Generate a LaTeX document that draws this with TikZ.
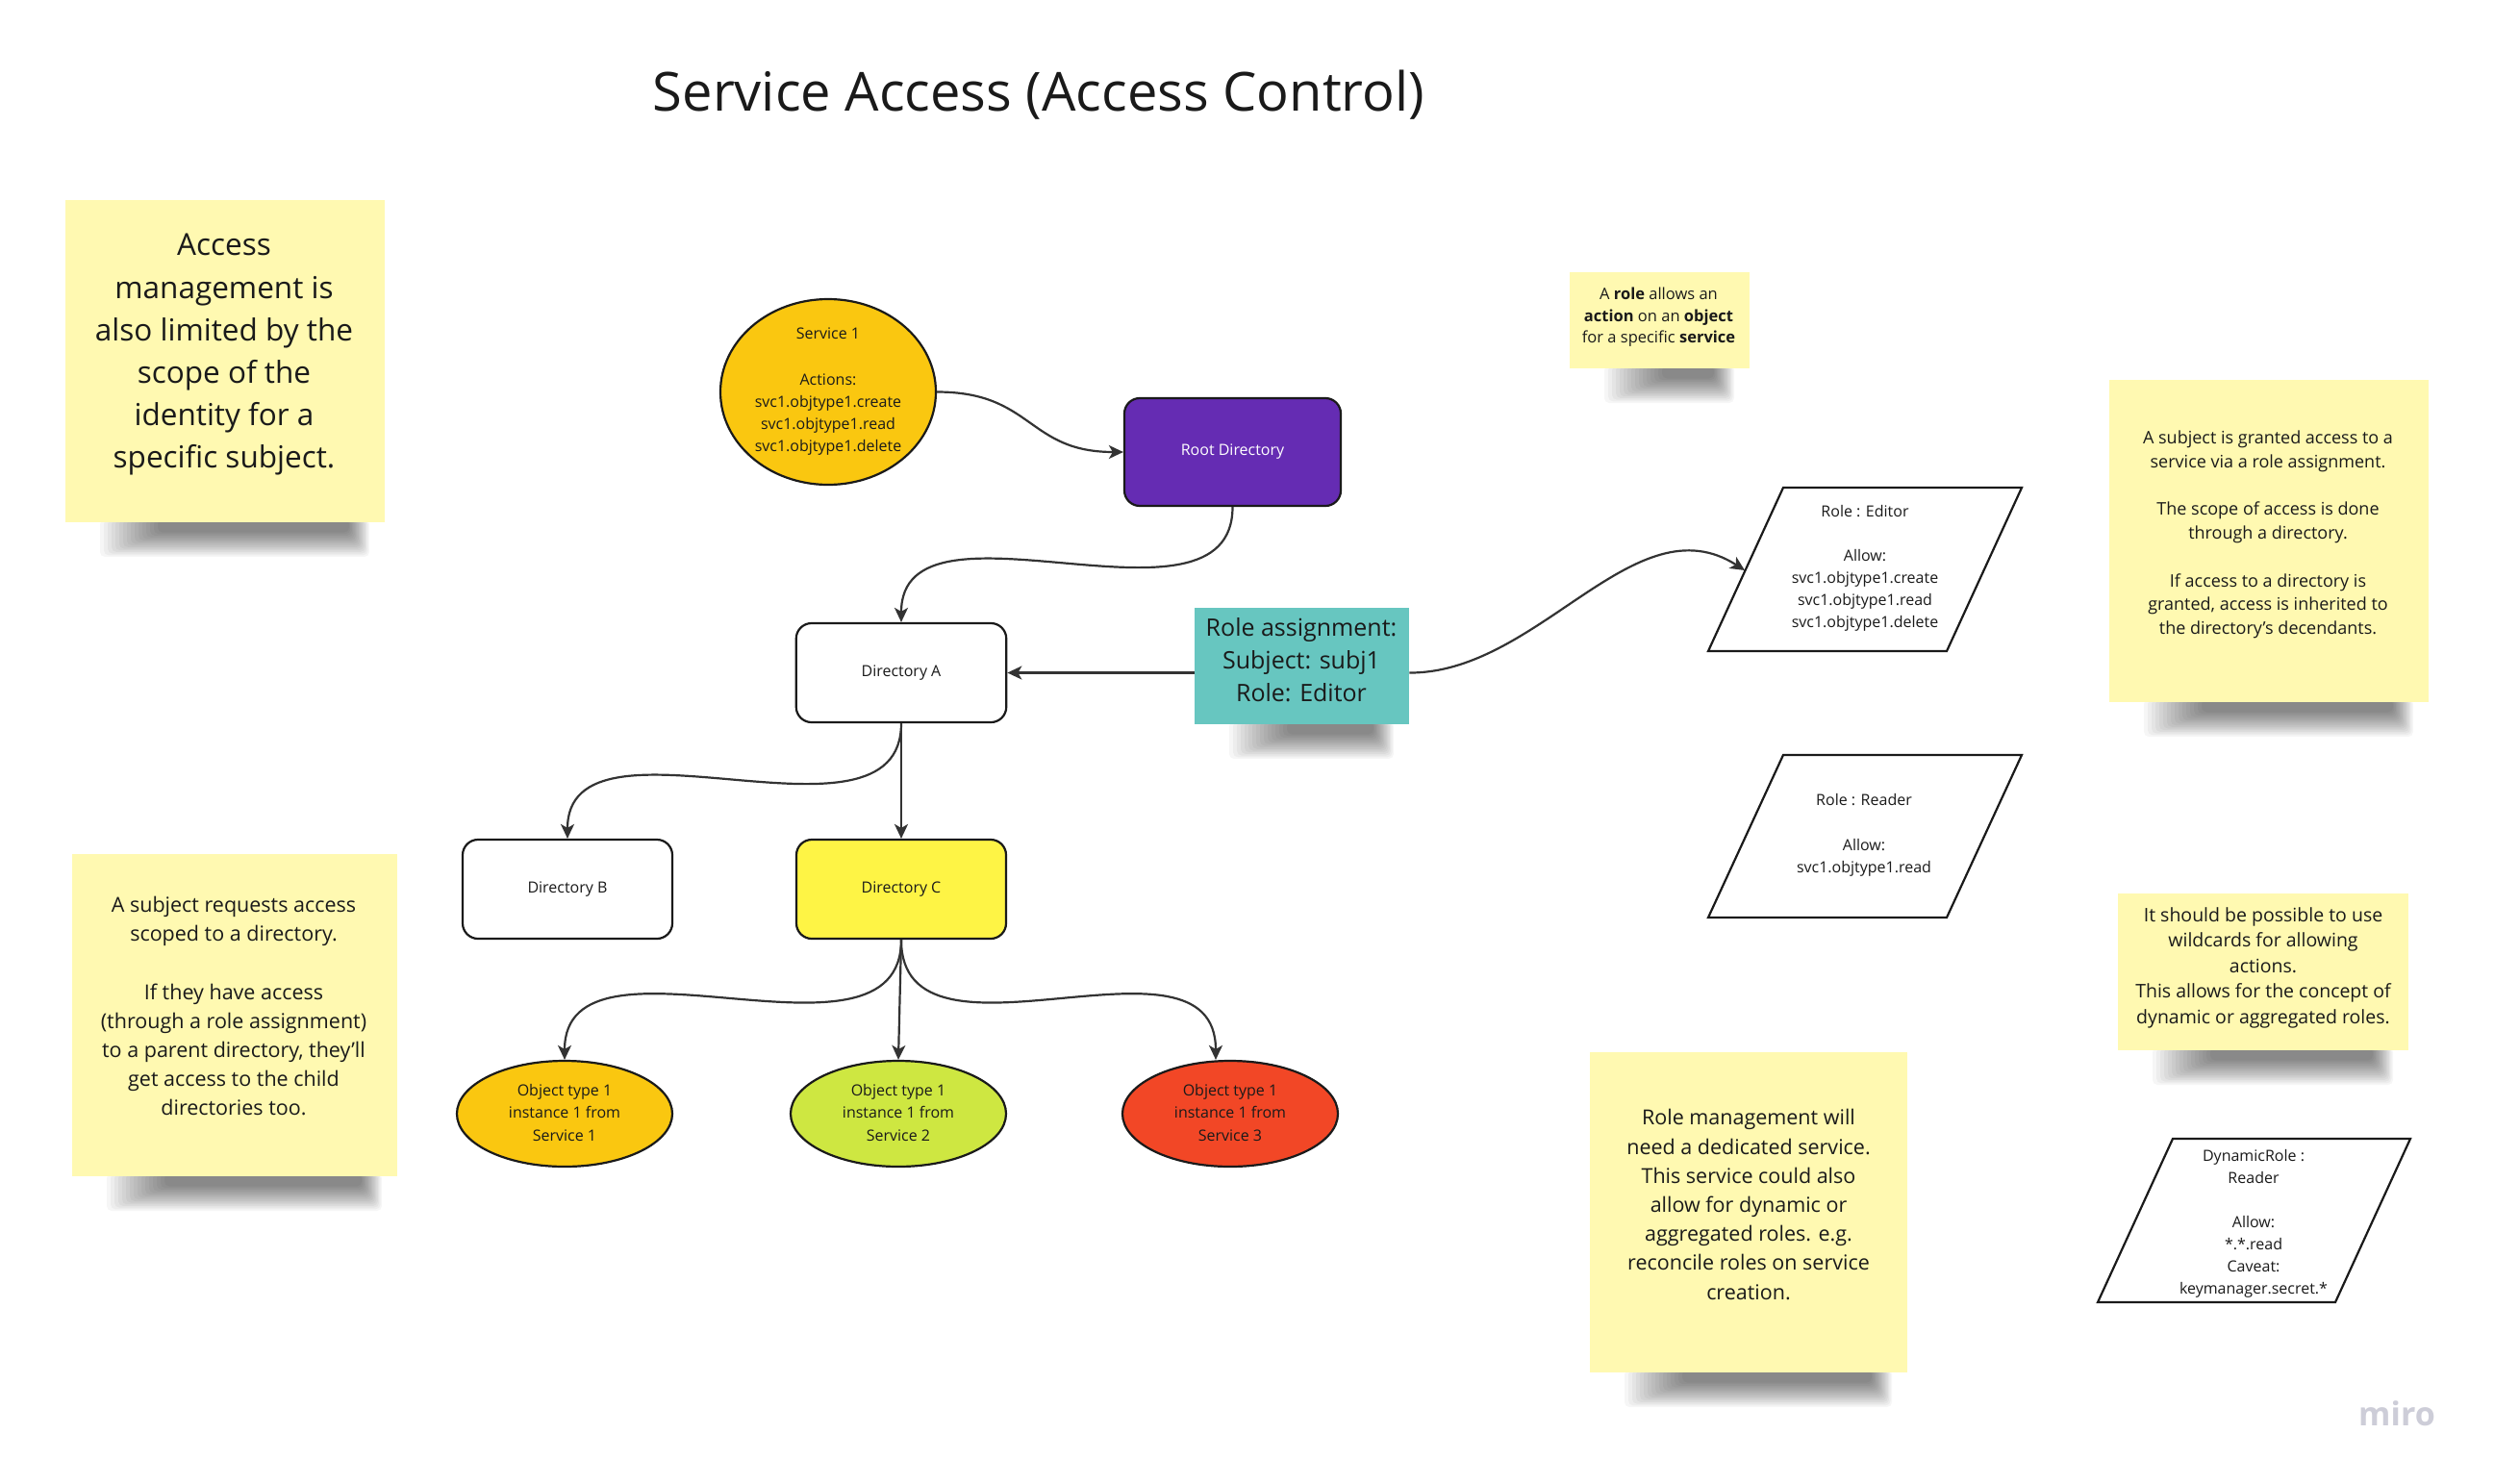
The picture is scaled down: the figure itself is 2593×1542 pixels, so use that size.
\documentclass[tikz,border=0pt]{standalone}
\usepackage{fontspec}
\setmainfont{Open Sans}
\usetikzlibrary{arrows.meta,shapes.geometric}
\definecolor{stickyc}{HTML}{FFF9B1}
\definecolor{tealc}{HTML}{67C6C0}
\definecolor{linec}{HTML}{1A1A1A}
\definecolor{connc}{HTML}{333333}
\definecolor{orangec}{HTML}{FAC710}
\definecolor{violetc}{HTML}{652CB3}
\definecolor{yellowc}{HTML}{FEF445}
\definecolor{limec}{HTML}{CEE741}
\definecolor{redc}{HTML}{F24726}
\definecolor{miroc}{HTML}{CDCDD8}
\newcommand\fsz[2]{\fontsize{#1}{#2}\selectfont}
\newcommand\noteshadow[3]{%
  \foreach \i in {0,...,15}{
    \fill[black,opacity=0.034,rounded corners=5pt] (#1+36+\i*4,#3-3) rectangle (#2-16-\i*1.4,#3+36-\i*1.7);
  }}
\tikzset{
  shapebox/.style={draw=linec, line width=2.2pt, rounded corners=16pt, inner sep=0pt, text=linec, font=\fsz{16}{23}},
  objell/.style={draw=linec, line width=2.2pt, ellipse, inner sep=0pt, minimum width=224pt, minimum height=110pt, align=center, text=linec, font=\fsz{16}{23.5}},
  conn/.style={draw=connc, line width=2.2pt, -{Stealth[length=15pt,width=14pt,inset=4pt]}},
  stickynote/.style={fill=stickyc, inner sep=0pt, anchor=north west},
  notetext/.style={align=center, inner sep=0pt, text=linec},
  shapetext/.style={align=center, inner sep=0pt, text=linec, font=\fsz{16}{23}},
  paral/.style={draw=linec, line width=2.2pt}
}
\begin{document}
\begin{tikzpicture}[x=1pt,y=-1pt]
\useasboundingbox (0,0) rectangle (2593,1542);
\fill[white] (0,0) rectangle (2593,1542);

% title
\node[anchor=base, inner sep=0pt, text=linec, font=\fsz{56}{64}] (title) at (1080,115) {Service Access (Access Control)};

% shadows
\noteshadow{68}{400}{543}
\noteshadow{1632}{1819}{383}
\noteshadow{2193}{2525}{730}
\noteshadow{75}{413}{1223}
\noteshadow{2202}{2504}{1092}
\noteshadow{1653}{1983}{1427}
\noteshadow{1242}{1465}{753}

% sticky notes
\node[stickynote, minimum width=332pt, minimum height=335pt] (n1) at (68,208) {};
\node[notetext, font=\fsz{31.5}{44.2}] (n1t) at (233,367.5) {\strut Access\\management is\\also limited by the\\scope of the\\identity for a\\specific subject.\strut};

\node[stickynote, minimum width=187pt, minimum height=100pt] (n2) at (1632,283) {};
\node[notetext, font=\fsz{16.5}{22.5}] (n2t) at (1724.5,329.5) {\strut A \textbf{role} allows an\\\textbf{action} on an \textbf{object}\\for a specific \textbf{service}\strut};

\node[stickynote, minimum width=332pt, minimum height=335pt] (n3) at (2193,395) {};
\node[notetext, font=\fsz{18}{24.8}] (n3t) at (2358,555.5) {\strut A subject is granted access to a\\service via a role assignment.\\[24.8pt]The scope of access is done\\through a directory.\\[24.8pt]If access to a directory is\\granted, access is inherited to\\the directory's decendants.\strut};

\node[stickynote, minimum width=338pt, minimum height=335pt] (n4) at (75,888) {};
\node[notetext, font=\fsz{21.5}{30}] (n4t) at (243,1048) {\strut A subject requests access\\scoped to a directory.\\[31pt]If they have access\\(through a role assignment)\\to a parent directory, they'll\\get access to the child\\directories too.\strut};

\node[stickynote, minimum width=302pt, minimum height=163pt] (n5) at (2202,929) {};
\node[notetext, font=\fsz{19.5}{26.5}] (n5t) at (2353,1006) {\strut It should be possible to use\\wildcards for allowing\\actions.\\This allows for the concept of\\dynamic or aggregated roles.\strut};

\node[stickynote, minimum width=330pt, minimum height=333pt] (n6) at (1653,1094) {};
\node[notetext, font=\fsz{21.5}{30.2}] (n6t) at (1818,1254.5) {\strut Role management will\\need a dedicated service.\\This service could also\\allow for dynamic or\\aggregated roles. e.g.\\reconcile roles on service\\creation.\strut};

\node[stickynote, fill=tealc, minimum width=223pt, minimum height=121pt] (teal) at (1242,632) {};
\node[notetext, font=\fsz{25}{34}] (tealt) at (1353,689) {\strut Role assignment:\\Subject: subj1\\Role: Editor\strut};

% service ellipse
\node[draw=linec, line width=2.2pt, ellipse, fill=orangec, minimum width=224pt, minimum height=193pt, inner sep=0pt] (svc) at (861,407.5) {};
\node[shapetext] (svct) at (861,406) {\strut Service 1\\[25pt]Actions:\\svc1.objtype1.create\\svc1.objtype1.read\\svc1.objtype1.delete\strut};

% directories
\node[shapebox, fill=violetc, text=white, minimum width=225pt, minimum height=112pt] (root) at (1281.5,470) {Root Directory};
\node[shapebox, fill=white, minimum width=218.5pt, minimum height=103pt] (dirA) at (937,699.5) {Directory A};
\node[shapebox, fill=white, minimum width=218pt, minimum height=103pt] (dirB) at (590,924.5) {Directory B};
\node[shapebox, fill=yellowc, minimum width=218pt, minimum height=103pt] (dirC) at (937,924.5) {Directory C};

% objects
\node[objell, fill=orangec] (obj1) at (587,1158) {\strut Object type 1\\instance 1 from\\Service 1\strut};
\node[objell, fill=limec] (obj2) at (934,1158) {\strut Object type 1\\instance 1 from\\Service 2\strut};
\node[objell, fill=redc] (obj3) at (1279,1158) {\strut Object type 1\\instance 1 from\\Service 3\strut};

% roles
\draw[paral] (1854,507) -- (2102,507) -- (2024,677) -- (1776,677) -- cycle;
\node[shapetext] (editor) at (1939,590) {\strut Role : Editor\\[23pt]Allow:\\svc1.objtype1.create\\svc1.objtype1.read\\svc1.objtype1.delete\strut};
\coordinate (edIn) at (1814,593);

\draw[paral] (1854,785) -- (2102,785) -- (2024,954) -- (1776,954) -- cycle;
\node[shapetext, font=\fsz{16}{23.5}] (reader) at (1938,868) {\strut Role : Reader\\[23pt]Allow:\\svc1.objtype1.read\strut};

\begin{scope}
\clip (2259,1184) -- (2506,1184) -- (2428,1354) -- (2181,1354) -- cycle;
\node[shapetext] (dyn) at (2343,1272) {\strut DynamicRole :\\Reader\\[23pt]Allow:\\*.*.read\\Caveat:\\keymanager.secret.*\strut};
\end{scope}
\draw[paral] (2259,1184) -- (2506,1184) -- (2428,1354) -- (2181,1354) -- cycle;

% connectors
\draw[conn] (svc.east) .. controls +(100,0) and +(-100,0) .. (root.west);
\draw[conn] (root.south) .. controls +(0,145) and +(0,-145) .. (dirA.north);
\draw[conn] (teal.west |- dirA.east) -- (dirA.east);
\draw[conn] (teal.east |- dirA.east) .. controls (1600,700) and (1700,520) .. (edIn);
\draw[conn] (dirA.south) .. controls +(0,145) and +(0,-145) .. (dirB.north);
\draw[conn] (dirA.south) -- (dirC.north);
\draw[conn] (dirC.south) .. controls +(0,150) and +(0,-150) .. (obj1.north);
\draw[conn] (dirC.south) -- (obj2.north);
\draw[conn] (dirC.south) .. controls +(0,150) and +(0,-150) .. ([xshift=-15pt]obj3.north);

% watermark
\node[anchor=base, inner sep=0pt, text=miroc, font=\fsz{34}{40}\bfseries] (miro) at (2492,1482) {miro};
\end{tikzpicture}
\end{document}
